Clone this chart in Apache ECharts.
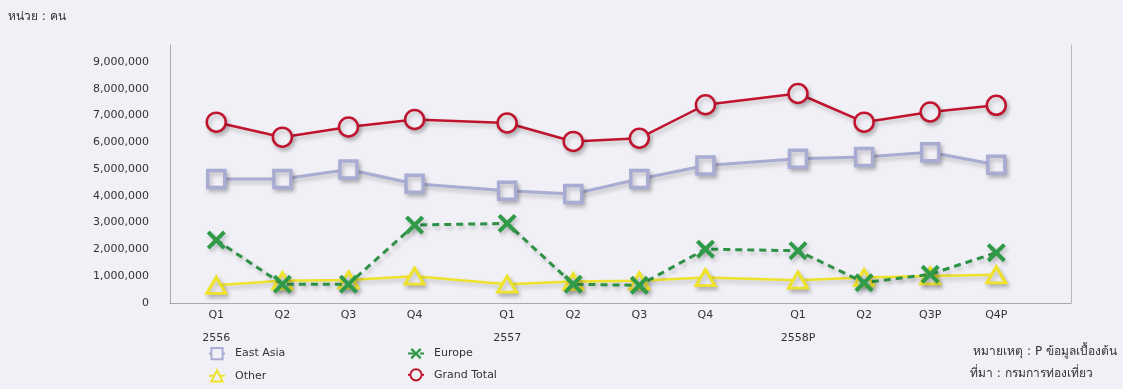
<!DOCTYPE html>
<html>
<head>
<meta charset="utf-8">
<script src="https://cdn.jsdelivr.net/npm/echarts@6/dist/echarts.min.js"></script>
<style>
html,body{margin:0;padding:0;background:#f0f0f6;}
#c{width:1123px;height:389px;}
</style>
</head>
<body>
<div id="c"></div>
<script>
// ---- data ----
const quarters = ['Q1','Q2','Q3','Q4','Q1','Q2','Q3','Q4','Q1','Q2','Q3P','Q4P'];
const years = ['2556','2557','2558P'];
const eastAsia   = [4630000,4630000,4980000,4450000,4190000,4070000,4630000,5130000,5380000,5450000,5630000,5160000];
const europe     = [2350000,700000,700000,2910000,2970000,700000,660000,2010000,1950000,760000,1070000,1880000];
const other      = [660000,830000,860000,1000000,700000,800000,830000,950000,850000,950000,1010000,1050000];
const grandTotal = [6750000,6190000,6570000,6850000,6720000,6030000,6150000,7400000,7820000,6750000,7130000,7380000];
const yTicks = [0,1000000,2000000,3000000,4000000,5000000,6000000,7000000,8000000,9000000];

// layout helper: quarters grouped by year, with a small gap between years
const YEAR_SPAN = 4.4;
const xPos = quarters.map((q,i)=> Math.floor(i/4)*YEAR_SPAN + (i%4));
const labelMap = {};
xPos.forEach((x,i)=>{
  const yr = (i%4===0) ? '\n' + years[Math.floor(i/4)] : '';
  labelMap[x.toFixed(2)] = quarters[i] + yr;
});
const pair = arr => arr.map((v,i)=>[xPos[i], v]);

const BG = '#f0f0f6';
const FONT = 'DejaVu Sans, sans-serif';
const shadowLine = {shadowColor:'rgba(0,0,0,0.22)', shadowBlur:4, shadowOffsetX:2, shadowOffsetY:3};
const xPath = 'path://M0,1.5 L1.5,0 L5,3.5 L8.5,0 L10,1.5 L6.5,5 L10,8.5 L8.5,10 L5,6.5 L1.5,10 L0,8.5 L3.5,5 Z';

const chart = echarts.init(document.getElementById('c'), null, {renderer:'canvas'});
chart.setOption({
  backgroundColor: BG,
  animation: false,
  textStyle: {fontFamily: FONT},
  grid: {left:170, right:52, top:45, bottom:86},
  xAxis: {
    type:'value', min:-0.7, max:12.93,
    axisLine:{show:true, onZero:false, lineStyle:{color:'#a8a8ae', width:1}},
    axisTick:{show:false},
    splitLine:{show:false},
    axisLabel:{
      customValues: xPos,
      color:'#333', fontSize:11, fontFamily:FONT, margin:1, lineHeight:23,
      formatter: v => labelMap[Number(v).toFixed(2)] || ''
    }
  },
  yAxis: [{
    type:'value', min:0, max:9630000, interval:1000000,
    axisLine:{show:true, onZero:false, lineStyle:{color:'#a8a8ae', width:1}},
    axisTick:{show:false},
    splitLine:{show:false},
    axisLabel:{
      customValues: yTicks,
      color:'#333', fontSize:11, fontFamily:FONT, margin:21,
      formatter: v => Number(v).toLocaleString('en-US')
    }
  },{
    type:'value', min:0, max:9630000, position:'right',
    axisLine:{show:true, onZero:false, lineStyle:{color:'#b8b8be', width:1}},
    axisTick:{show:false}, axisLabel:{show:false}, splitLine:{show:false}
  }],
  legend: [{
    orient:'vertical', left:208, top:347, height:44, padding:0, itemGap:9, itemWidth:16, itemHeight:14,
    textStyle:{color:'#333', fontSize:11, fontFamily:FONT, padding:[0,0,0,5]},
    data:['East Asia','Other']
  },{
    orient:'vertical', left:407, top:348, height:44, padding:0, itemGap:9, itemWidth:16, itemHeight:14,
    textStyle:{color:'#333', fontSize:11, fontFamily:FONT, padding:[0,0,0,5]},
    data:['Europe','Grand Total']
  }],
  graphic: [
    {type:'text', left:8, top:11, style:{text:'หน่วย : คน', fill:'#333', fontSize:12, fontFamily:FONT}},
    {type:'text', right:6, top:346, style:{text:'หมายเหตุ : P ข้อมูลเบื้องต้น', fill:'#333', fontSize:12, fontFamily:FONT}},
    {type:'text', left:970, top:368, style:{text:'ที่มา : กรมการท่องเที่ยว', fill:'#333', fontSize:12, fontFamily:FONT}}
  ],
  series: [
    {
      name:'East Asia', type:'line', data:pair(eastAsia),
      symbol:'rect', symbolSize:17,
      lineStyle:Object.assign({color:'#a9acd2', width:3}, shadowLine),
      itemStyle:Object.assign({color:BG, borderColor:'#a9acd2', borderWidth:3.5}, shadowLine),
      z:3
    },
    {
      name:'Europe', type:'line', data:pair(europe),
      symbol:xPath, symbolSize:19,
      lineStyle:Object.assign({color:'#2f9146', width:3, type:[7,5]}, shadowLine),
      itemStyle:Object.assign({color:'#2f9a48', borderWidth:0}, shadowLine),
      z:5
    },
    {
      name:'Other', type:'line', data:pair(other),
      symbol:'triangle', symbolSize:[19,16],
      lineStyle:Object.assign({color:'#efe22a', width:2.5}, shadowLine),
      itemStyle:Object.assign({color:BG, borderColor:'#efe22a', borderWidth:3}, shadowLine),
      z:4
    },
    {
      name:'Grand Total', type:'line', data:pair(grandTotal),
      symbol:'circle', symbolSize:19,
      lineStyle:Object.assign({color:'#c0142e', width:2.5}, shadowLine),
      itemStyle:Object.assign({color:BG, borderColor:'#c0142e', borderWidth:2.5}, shadowLine),
      z:3
    }
  ]
});
</script>
</body>
</html>
